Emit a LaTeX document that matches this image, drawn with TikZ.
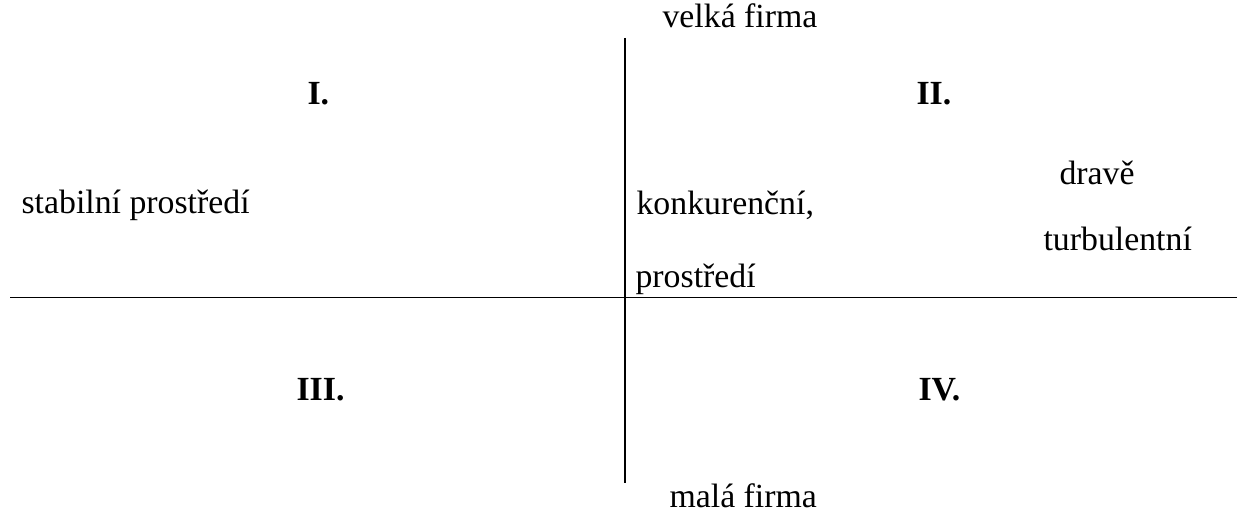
\documentclass[tikz,border=0pt]{standalone}
\usepackage{fontspec}
\setmainfont{Liberation Serif}
\begin{document}
\begin{tikzpicture}[x=0.3551pt,y=-0.3551pt,
  lbl/.style={anchor=base west,inner sep=0pt,font=\fontsize{12}{14}\selectfont},
  quad/.style={lbl,font=\fontsize{12}{14}\selectfont\bfseries},
  axis/.style={line width=0.7pt,black}]
\useasboundingbox (0,0) rectangle (1238,515);

% axes
\coordinate (hl) at (10,297.5);
\coordinate (hr) at (1237,297.5);
\coordinate (vt) at (625,38);
\coordinate (vb) at (625,483);
\draw[axis] (hl) -- (hr);
\draw[axis] (vt) -- (vb);

% axis labels
\node[lbl] (top) at (662,28) {velká firma};
\node[lbl] (bottom) at (669,508) {malá firma};

% quadrant numbers
\node[quad] (q1) at (307,105) {I.};
\node[quad] (q2) at (916,105) {II.};
\node[quad] (q3) at (296,401) {III.};
\node[quad] (q4) at (918,401) {IV.};

% environment descriptions
\node[lbl] (stab) at (21,214) {stabilní prostředí};
\node[lbl] (konk) at (636,215) {konkurenční,};
\node[lbl] (prost) at (635,288) {prostředí};
\node[lbl] (drav) at (1059,185) {dravě};
\node[lbl] (turb) at (1043,251) {turbulentní};
\end{tikzpicture}
\end{document}
